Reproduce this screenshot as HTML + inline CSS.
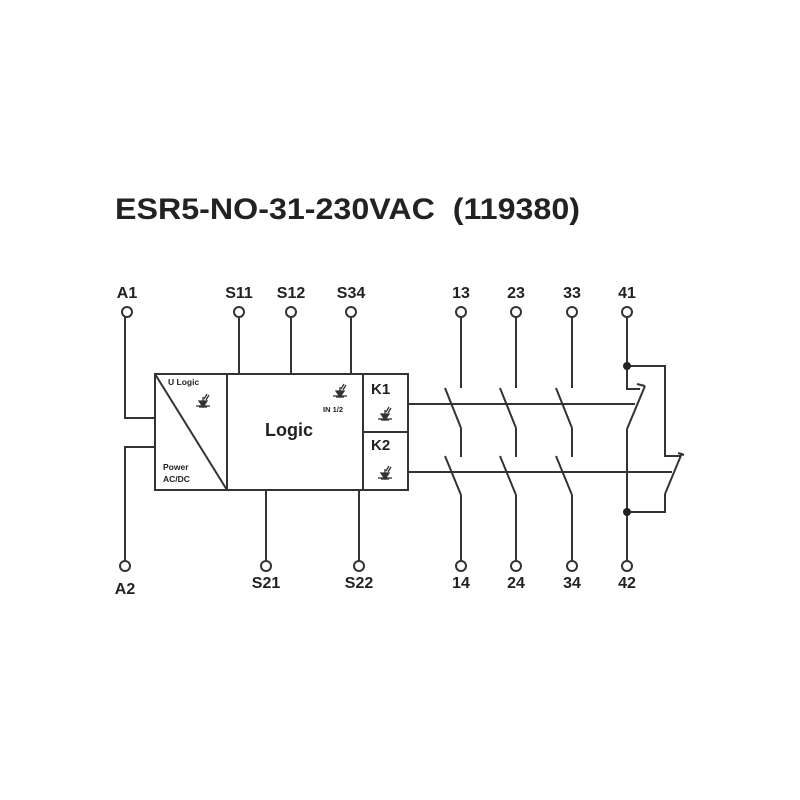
<!DOCTYPE html>
<html><head><meta charset="utf-8"><style>
html,body{margin:0;padding:0;background:#fff;}
svg{display:block;}
text{font-family:"Liberation Sans",Arial,sans-serif;font-weight:bold;fill:#222;}
</style></head><body>
<svg width="800" height="800" viewBox="0 0 800 800" xmlns="http://www.w3.org/2000/svg">
<defs>
<g id="led" stroke="#333" stroke-width="1.3" fill="none">
  <line x1="-7" y1="0" x2="7" y2="0"/>
  <polygon points="-4,-5 4,-5 0,1" fill="#333"/>
  <line x1="-4" y1="1" x2="4" y2="1"/>
  <line x1="0" y1="-5" x2="0" y2="-9"/>
  <line x1="1" y1="-7" x2="4" y2="-12"/>
  <line x1="3" y1="-6" x2="6" y2="-11"/>
</g>
</defs>
<text x="115" y="219" font-size="30" xml:space="preserve" textLength="465" lengthAdjust="spacingAndGlyphs">ESR5-NO-31-230VAC  (119380)</text>

<g font-size="16" text-anchor="middle">
<text x="127" y="298">A1</text><text x="239" y="298">S11</text><text x="291" y="298">S12</text><text x="351" y="298">S34</text>
<text x="461" y="298">13</text><text x="516" y="298">23</text><text x="572" y="298">33</text><text x="627" y="298">41</text>
<text x="125" y="594">A2</text><text x="266" y="588">S21</text><text x="359" y="588">S22</text>
<text x="461" y="588">14</text><text x="516" y="588">24</text><text x="572" y="588">34</text><text x="627" y="588">42</text>
</g>

<g stroke="#333" stroke-width="2" fill="none">
<g fill="#fff">
<circle cx="127" cy="312" r="5"/><circle cx="239" cy="312" r="5"/><circle cx="291" cy="312" r="5"/><circle cx="351" cy="312" r="5"/>
<circle cx="461" cy="312" r="5"/><circle cx="516" cy="312" r="5"/><circle cx="572" cy="312" r="5"/><circle cx="627" cy="312" r="5"/>
<circle cx="125" cy="566" r="5"/><circle cx="266" cy="566" r="5"/><circle cx="359" cy="566" r="5"/>
<circle cx="461" cy="566" r="5"/><circle cx="516" cy="566" r="5"/><circle cx="572" cy="566" r="5"/><circle cx="627" cy="566" r="5"/>
</g>
<polyline points="125,317 125,418 155,418"/>
<polyline points="155,447 125,447 125,561"/>
<line x1="239" y1="317" x2="239" y2="374"/>
<line x1="291" y1="317" x2="291" y2="374"/>
<line x1="351" y1="317" x2="351" y2="374"/>
<line x1="266" y1="490" x2="266" y2="561"/>
<line x1="359" y1="490" x2="359" y2="561"/>
<rect x="155" y="374" width="253" height="116"/>
<line x1="227" y1="374" x2="227" y2="490"/>
<line x1="155" y1="374" x2="227" y2="490"/>
<line x1="363" y1="374" x2="363" y2="490"/>
<line x1="363" y1="432" x2="408" y2="432"/>
<line x1="408" y1="404" x2="635" y2="404"/>
<line x1="408" y1="472" x2="672" y2="472"/>
<g id="c">
<line x1="461" y1="317" x2="461" y2="388"/>
<line x1="445" y1="388" x2="461" y2="428"/>
<line x1="461" y1="428" x2="461" y2="457"/>
<line x1="445" y1="456" x2="461" y2="495"/>
<line x1="461" y1="495" x2="461" y2="561"/>
</g>
<use href="#c" x="55"/>
<use href="#c" x="111"/>
<polyline points="627,317 627,389 640,389"/>
<polyline points="637,384 645,386"/>
<line x1="627" y1="429" x2="645" y2="386"/>
<line x1="627" y1="429" x2="627" y2="561"/>
<polyline points="627,366 665,366 665,456 680,456"/>
<line x1="678" y1="453" x2="684" y2="455"/>
<line x1="665" y1="494" x2="682" y2="453"/>
<polyline points="665,494 665,512 627,512"/>
</g>
<circle cx="627" cy="366" r="4" fill="#222"/>
<circle cx="627" cy="512" r="4" fill="#222"/>

<g font-size="8.5">
<text x="168" y="385">U Logic</text>
<text x="163" y="470">Power</text>
<text x="163" y="482">AC/DC</text>
<text x="323" y="412" font-size="7.5">IN 1/2</text>
</g>
<text x="265" y="436" font-size="18">Logic</text>
<text x="371" y="394" font-size="15">K1</text>
<text x="371" y="450" font-size="15">K2</text>
<use href="#led" x="203" y="406"/>
<use href="#led" x="340" y="396"/>
<use href="#led" x="385" y="419"/>
<use href="#led" x="385" y="478"/>
</svg>
</body></html>
